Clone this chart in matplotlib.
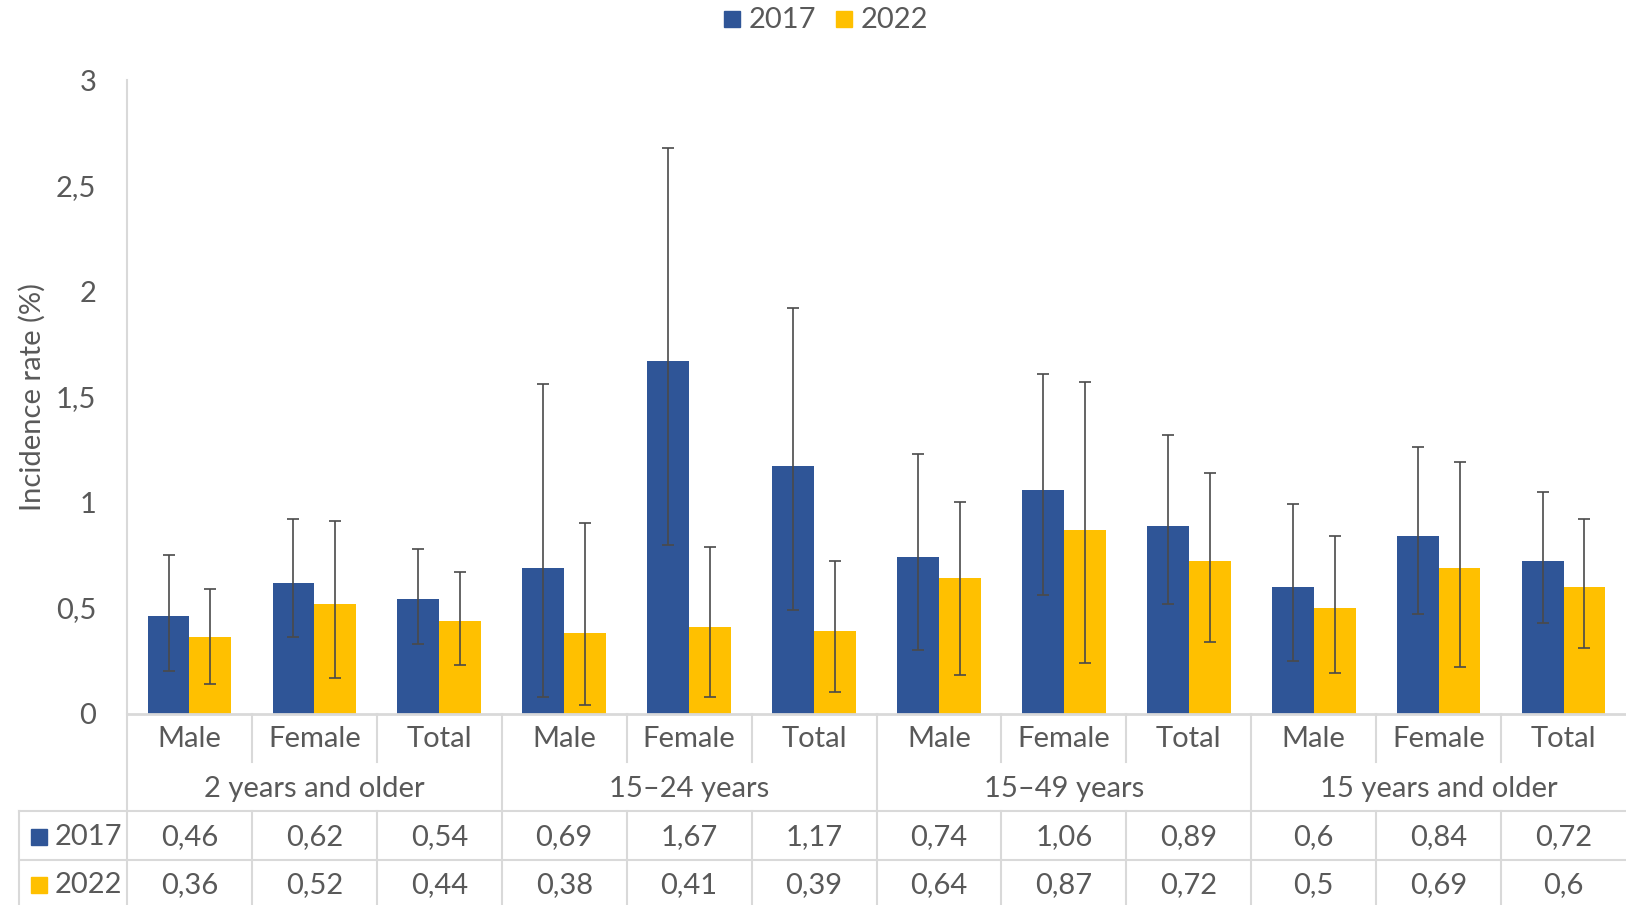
import matplotlib
matplotlib.use("Agg")
import matplotlib.pyplot as plt
from matplotlib.lines import Line2D
from matplotlib.patches import Rectangle
import matplotlib.transforms as mtransforms
import numpy as np

plt.rcParams['font.family'] = ['Lato', 'DejaVu Sans']

groups = ["2 years and older", "15\u201324 years", "15\u201349 years", "15 years and older"]
sexes = ["Male", "Female", "Total"]
series = ["2017", "2022"]

v2017 = [0.46, 0.62, 0.54, 0.69, 1.67, 1.17, 0.74, 1.06, 0.89, 0.60, 0.84, 0.72]
v2022 = [0.36, 0.52, 0.44, 0.38, 0.41, 0.39, 0.64, 0.87, 0.72, 0.50, 0.69, 0.60]
lab2017 = ["0,46", "0,62", "0,54", "0,69", "1,67", "1,17", "0,74", "1,06", "0,89", "0,6", "0,84", "0,72"]
lab2022 = ["0,36", "0,52", "0,44", "0,38", "0,41", "0,39", "0,64", "0,87", "0,72", "0,5", "0,69", "0,6"]

lo2017 = [0.20, 0.36, 0.33, 0.08, 0.80, 0.49, 0.30, 0.56, 0.52, 0.25, 0.47, 0.43]
hi2017 = [0.75, 0.92, 0.78, 1.56, 2.68, 1.92, 1.23, 1.61, 1.32, 0.99, 1.26, 1.05]
lo2022 = [0.14, 0.17, 0.23, 0.04, 0.08, 0.10, 0.18, 0.24, 0.34, 0.19, 0.22, 0.31]
hi2022 = [0.59, 0.91, 0.67, 0.90, 0.79, 0.72, 1.00, 1.57, 1.14, 0.84, 1.19, 0.92]

yticks = [0, 0.5, 1, 1.5, 2, 2.5, 3]
ytick_labels = ["0", "0,5", "1", "1,5", "2", "2,5", "3"]

BLUE = "#2F5597"
YELLOW = "#FFC000"
TXT = "#595959"
GRID = "#D9D9D9"
ERR = "#4A4A4A"

W, H = 1626, 905
fig = plt.figure(figsize=(W / 100, H / 100), dpi=100)

def fy(y):
    return 1 - y / H

ax_left, ax_right = 127, 1626
y0, y3 = 713.5, 80
ax = fig.add_axes([ax_left / W, fy(y0), (ax_right - ax_left) / W, (y0 - y3) / H])

n = len(v2017)
x = np.arange(n)
bw = 0.335
ax.bar(x - bw / 2, v2017, bw, color=BLUE, zorder=2)
ax.bar(x + bw / 2, v2022, bw, color=YELLOW, zorder=2)
ekw = dict(fmt="none", ecolor=ERR, elinewidth=1.2, capsize=4.5, capthick=1.2, zorder=3)
ax.errorbar(x - bw / 2, v2017, yerr=[np.array(v2017) - np.array(lo2017), np.array(hi2017) - np.array(v2017)], **ekw)
ax.errorbar(x + bw / 2, v2022, yerr=[np.array(v2022) - np.array(lo2022), np.array(hi2022) - np.array(v2022)], **ekw)

fs = 21
ax.set_xlim(-0.5, n - 0.5)
ax.set_ylim(0, 3)
ax.set_yticks(yticks)
ax.set_yticklabels(ytick_labels, fontsize=fs, color=TXT)
ax.tick_params(axis="y", length=0, pad=22)
ax.set_xticks([])
for s in ["top", "right"]:
    ax.spines[s].set_visible(False)
ax.spines["left"].set_color(GRID)
ax.spines["bottom"].set_color(GRID)
ax.spines["left"].set_linewidth(1.5)
ax.spines["bottom"].set_linewidth(2)
ax.set_ylabel("Incidence rate (%)", fontsize=fs, color=TXT)
ax.yaxis.set_label_coords(-(ax_left - 46) / (ax_right - ax_left), 0.5)

# table
tr = mtransforms.blended_transform_factory(ax.transData, fig.transFigure)
r_cat, r_grp, r_2017, r_2022 = 739, 789, 837, 885
lw = 1.5

def vline(xd, ya, yb):
    fig.add_artist(Line2D([xd, xd], [fy(ya), fy(yb)], transform=tr, color=GRID, lw=lw, clip_on=False))

def hline(xa, xb, yp):
    fig.add_artist(Line2D([xa, xb], [fy(yp), fy(yp)], transform=tr, color=GRID, lw=lw, clip_on=False))

unit = (ax_right - ax_left) / n
x_tab_left = (19 - ax_left) / unit - 0.5

for i in range(n):
    ax.text(i, fy(r_cat), sexes[i % 3], transform=tr, ha="center", va="center", fontsize=fs, color=TXT)
    ax.text(i, fy(r_2017), lab2017[i], transform=tr, ha="center", va="center", fontsize=fs, color=TXT)
    ax.text(i, fy(r_2022), lab2022[i], transform=tr, ha="center", va="center", fontsize=fs, color=TXT)
for g in range(4):
    ax.text(g * 3 + 1, fy(r_grp), groups[g], transform=tr, ha="center", va="center", fontsize=fs, color=TXT)

vline(-0.5, y0, H + 5)
for i in range(1, n):
    if i % 3 == 0:
        vline(i - 0.5, y0, H + 5)
    else:
        vline(i - 0.5, y0, 762)
        vline(i - 0.5, 811, H + 5)
vline(x_tab_left, 811, H + 5)
hline(x_tab_left, n - 0.5, 811)
hline(x_tab_left, n - 0.5, 860)

xt = (55 - ax_left) / unit - 0.5
for lab, col, ry in [("2017", BLUE, r_2017), ("2022", YELLOW, r_2022)]:
    fig.add_artist(Rectangle((31 / W, fy(ry) - 8 / H), 16 / W, 16 / H, transform=fig.transFigure,
                             color=col, clip_on=False))
    ax.text(xt, fy(ry), lab, transform=tr, ha="left", va="center", fontsize=fs, color=TXT)

for lab, col, xs in [("2017", BLUE, 724), ("2022", YELLOW, 836)]:
    fig.add_artist(Rectangle((xs / W, fy(19) - 8 / H), 16 / W, 16 / H, transform=fig.transFigure,
                             color=col, clip_on=False))
    fig.text((xs + 25) / W, fy(20), lab, ha="left", va="center", fontsize=fs, color=TXT)

fig.savefig("out.png", dpi=100)
